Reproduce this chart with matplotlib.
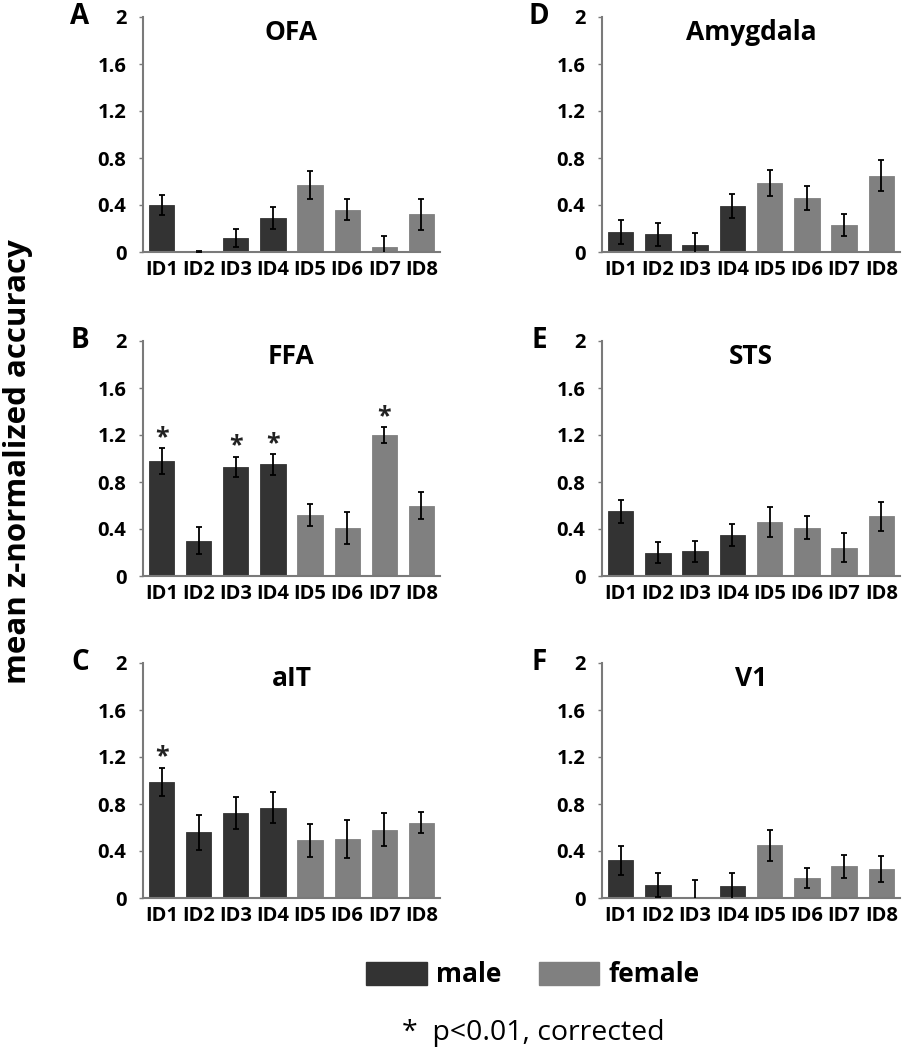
import matplotlib
matplotlib.use("Agg")
import matplotlib.pyplot as plt
from matplotlib.patches import Patch
import numpy as np

FONT = ['Open Sans', 'DejaVu Sans']
plt.rcParams['font.family'] = FONT

categories = ["ID1", "ID2", "ID3", "ID4", "ID5", "ID6", "ID7", "ID8"]
is_male = [True, True, True, True, False, False, False, False]

ofa_mean = [0.40, 0.00, 0.12, 0.29, 0.57, 0.36, 0.04, 0.32]
ofa_err = [0.085, 0.01, 0.077, 0.09, 0.12, 0.09, 0.10, 0.13]
ofa_sig = []

ffa_mean = [0.98, 0.30, 0.93, 0.95, 0.52, 0.41, 1.20, 0.60]
ffa_err = [0.11, 0.114, 0.086, 0.089, 0.094, 0.137, 0.066, 0.114]
ffa_sig = [0, 2, 3, 6]

ait_mean = [0.99, 0.56, 0.72, 0.77, 0.49, 0.50, 0.58, 0.64]
ait_err = [0.12, 0.15, 0.137, 0.129, 0.143, 0.163, 0.14, 0.09]
ait_sig = [0]

amy_mean = [0.17, 0.15, 0.06, 0.39, 0.59, 0.46, 0.23, 0.65]
amy_err = [0.10, 0.10, 0.10, 0.10, 0.11, 0.10, 0.095, 0.13]
amy_sig = []

sts_mean = [0.55, 0.20, 0.21, 0.35, 0.46, 0.41, 0.24, 0.51]
sts_err = [0.097, 0.089, 0.089, 0.091, 0.131, 0.097, 0.123, 0.123]
sts_sig = []

v1_mean = [0.32, 0.11, 0.01, 0.10, 0.45, 0.17, 0.27, 0.25]
v1_err = [0.12, 0.10, 0.14, 0.114, 0.131, 0.089, 0.10, 0.111]
v1_sig = []

titles = ["OFA", "FFA", "aIT", "Amygdala", "STS", "V1"]
letters = ["A", "B", "C", "D", "E", "F"]
yticks = [0, 0.4, 0.8, 1.2, 1.6, 2]
yticklabels = ["0", "0.4", "0.8", "1.2", "1.6", "2"]

male_color = "#333333"
female_color = "#808080"
spine_color = "#7a7a7a"

W, H = 904, 1050
fig = plt.figure(figsize=(W / 100, H / 100), dpi=100)

# axes pixel boxes: left, top, right, bottom
col_x = [(143, 440), (602, 900)]
row_y = [(17, 252), (341, 576), (663, 898)]

panels = [
    (ofa_mean, ofa_err, ofa_sig),
    (ffa_mean, ffa_err, ffa_sig),
    (ait_mean, ait_err, ait_sig),
    (amy_mean, amy_err, amy_sig),
    (sts_mean, sts_err, sts_sig),
    (v1_mean, v1_err, v1_sig),
]

x = np.arange(len(categories))
colors = [male_color if m else female_color for m in is_male]

for i, (mean, err, sig) in enumerate(panels):
    c = i // 3
    r = i % 3
    l, rr = col_x[c]
    t, b = row_y[r]
    ax = fig.add_axes([l / W, 1 - b / H, (rr - l) / W, (b - t) / H])
    ax.bar(x, mean, width=0.68, color=colors, edgecolor=colors, linewidth=0.6, zorder=2)
    ax.errorbar(x, mean, yerr=err, fmt='none', ecolor='black', elinewidth=1.3,
                capsize=2.5, capthick=1.3, zorder=3)
    for k in sig:
        ax.text(x[k], mean[k] + err[k] + 0.09, "*", ha='center', va='center',
                fontsize=18, fontweight='bold', color='#222222')
    ax.set_xlim(-0.5, 7.5)
    ax.set_ylim(0, 2)
    ax.set_yticks(yticks)
    ax.set_yticklabels(yticklabels)
    ax.set_xticks(x)
    ax.set_xticklabels(categories)
    for s in ['top', 'right']:
        ax.spines[s].set_visible(False)
    for s in ['left', 'bottom']:
        ax.spines[s].set_color(spine_color)
        ax.spines[s].set_linewidth(1.5)
    ax.tick_params(axis='y', length=3, width=1, color=spine_color, labelsize=14.5, pad=9)
    ax.tick_params(axis='x', length=0, labelsize=14.5, pad=6)
    for lab in ax.get_xticklabels() + ax.get_yticklabels():
        lab.set_fontweight('bold')
    ax.text(0.5, 0.935, titles[i], transform=ax.transAxes, ha='center', va='center',
            fontsize=19, fontweight='bold')
    fig.text((l - 63) / W, 1 - (t - 1) / H, letters[i], ha='center', va='center',
             fontsize=20, fontweight='bold')

fig.text(18 / W, 1 - 462 / H, "mean z-normalized accuracy", rotation=90,
         ha='center', va='center', fontsize=22.5, fontweight='bold')

handles = [Patch(facecolor=male_color, edgecolor=male_color, label="male"),
           Patch(facecolor=female_color, edgecolor=female_color, label="female")]
leg = fig.legend(handles=handles, loc='center', bbox_to_anchor=(533 / W, 1 - 975 / H),
                 ncol=2, frameon=False, handlelength=2.3, handleheight=1.0,
                 handletextpad=0.35, columnspacing=1.4,
                 prop={'family': FONT, 'weight': 'bold', 'size': 19})

fig.text(533 / W, 1 - 1033 / H, "*  p<0.01, corrected", ha='center', va='center',
         fontsize=20.5)

fig.savefig("out.png", dpi=100)
